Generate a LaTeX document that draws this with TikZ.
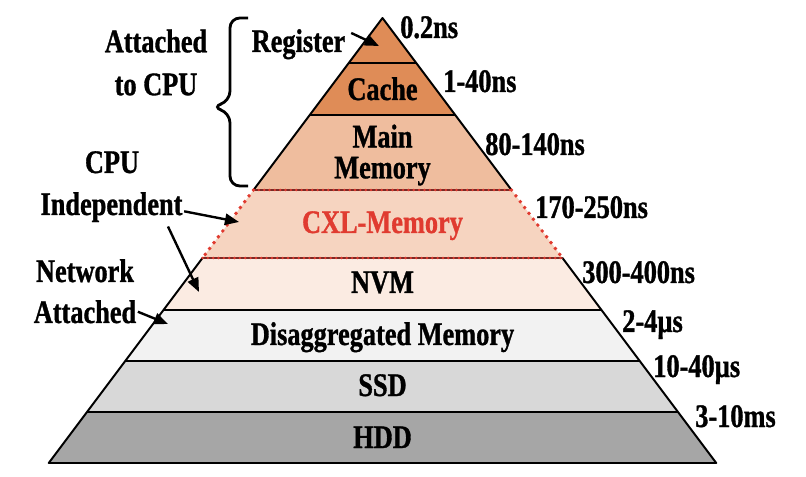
\documentclass[tikz,border=0pt]{standalone}
\usepackage{fontspec}
\setmainfont{Liberation Serif}[FakeStretch=0.8, BoldFeatures={FakeBold=1}]
\usetikzlibrary{arrows.meta}
\definecolor{regorange}{HTML}{DF8C57}
\definecolor{mainorange}{HTML}{EFBD9E}
\definecolor{cxlorange}{HTML}{F6D4C0}
\definecolor{nvmpink}{HTML}{FBEBE2}
\definecolor{disgray}{HTML}{F2F2F2}
\definecolor{ssdgray}{HTML}{D8D8D8}
\definecolor{hddgray}{HTML}{A6A6A6}
\definecolor{cxlred}{HTML}{E03B30}
\definecolor{cxldark}{HTML}{7A2A25}

\begin{document}
\begin{tikzpicture}[
  x=0.025cm, y=-0.025cm,
  font=\fontsize{23.4}{26}\selectfont\bfseries,
  lbl/.style={inner sep=0pt, anchor=base},
  lat/.style={inner sep=0pt, anchor=base west},
  edge/.style={line width=1.4pt, line join=round},
  cxldots/.style={cxlred, line width=2.8pt, line cap=round, dash pattern=on 0pt off 5.2pt},
  arr/.style={-{Triangle[length=10pt, width=8pt]}, line width=1.7pt}
]
  \useasboundingbox (0,0) rectangle (806,477);

  % Pyramid corners (L/R at each boundary)
  \foreach \y [count=\i] in {18,63,115,190,258,310,361,412,463} {
    \coordinate (L\i) at ({382.5-0.75*(\y-18)},\y);
    \coordinate (R\i) at ({382.5+0.75*(\y-18)},\y);
  }

  % Layers
  \foreach \i/\col in {1/regorange, 2/regorange, 3/mainorange, 4/cxlorange,
                       5/nvmpink, 6/disgray, 7/ssdgray, 8/hddgray} {
    \pgfmathtruncatemacro{\j}{\i+1}
    \fill[\col] (L\i) -- (R\i) -- (R\j) -- (L\j) -- cycle;
  }

  % Outline
  \draw[edge] (L4) -- (L1) -- (R4);
  \draw[edge] (L5) -- (L9) -- (R9) -- (R5);
  \foreach \i in {2,3,6,7,8}
    \draw[edge] (L\i) -- (R\i);

  % CXL borders
  \draw[line width=1.2pt, cxldark] (L4) -- (R4) (L5) -- (R5);
  \draw[cxldots, line width=1.9pt, dash pattern=on 0pt off 3.8pt] (L4) -- (R4) (L5) -- (R5);
  \draw[cxldots] (L4) -- (L5) (R4) -- (R5);

  % Layer names
  \node[lbl] (cache) at (382.5,100) {Cache};
  \node[align=center, inner sep=0pt, font=\fontsize{23.4}{22}\selectfont\bfseries]
    (mainmem) at (382.5,155) {Main\\Memory};
  \node[lbl, text=cxlred] (cxl) at (382.5,233) {CXL-Memory};
  \node[lbl] (nvm) at (382.5,293) {NVM};
  \node[lbl] (disagg) at (382.5,345) {Disaggregated Memory};
  \node[lbl] (ssd) at (382.5,396) {SSD};
  \node[lbl] (hdd) at (382.5,448) {HDD};

  % Latencies
  \node[lat] (t1) at (400,38) {0.2ns};
  \node[lat] (t2) at (443,92) {1-40ns};
  \node[lat] (t3) at (485,155) {80-140ns};
  \node[lat] (t4) at (535,218) {170-250ns};
  \node[lat] (t5) at (582,283) {300-400ns};
  \node[lat] (t6) at (622,332) {2-4µs};
  \node[lat] (t7) at (653,377) {10-40µs};
  \node[lat] (t8) at (695,427) {3-10ms};

  % Groups on the left
  \node[align=center, inner sep=0pt, font=\fontsize{23.4}{30.5}\selectfont\bfseries]
    (attcpu) at (156,62.5) {Attached\\to CPU};
  \draw[line width=2pt, rounded corners=7pt]
    (248,18) -- (230,18) -- (230,101) -- (212,107) -- (230,113) -- (230,186) -- (248,186);
  \node[lbl] (reg) at (298.5,52) {Register};
  \node[lbl] (cpu) at (112,173) {CPU};
  \node[lbl] (indep) at (111.5,215) {Independent};
  \node[lbl] (net) at (85,282) {Network};
  \node[lbl] (natt) at (85,323) {Attached};

  % Arrows
  \coordinate (regtip) at (379,46);
  \coordinate (cxltip) at (239,222);
  \coordinate (nvmtip) at (199,292);
  \coordinate (distip) at (168,324);
  \draw[arr] ([xshift=4pt, yshift=8pt]reg.east) -- (regtip);
  \draw[arr] ([xshift=1pt, yshift=-3pt]indep.east) -- (cxltip);
  \draw[arr] ([xshift=-10.5pt, yshift=-3pt]indep.south east) -- (nvmtip);
  \draw[arr] ([xshift=1pt]natt.east) -- (distip);
\end{tikzpicture}
\end{document}
